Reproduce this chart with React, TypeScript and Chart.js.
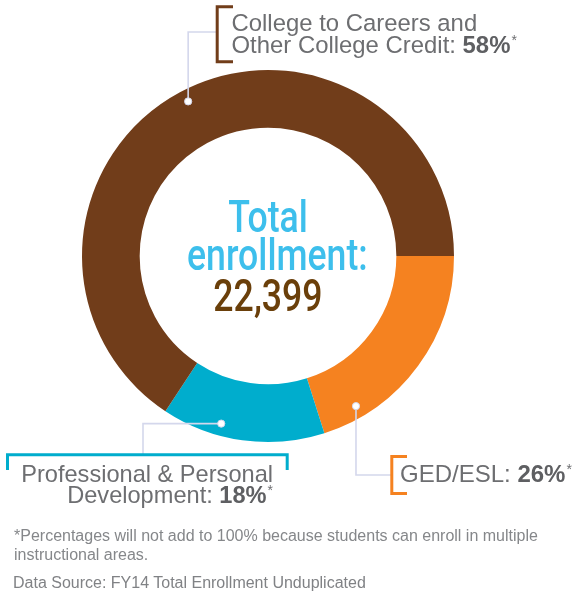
import React, { useEffect, useRef } from "react";
import { Chart, registerables } from "chart.js";

Chart.register(...registerables);

// ---- data ----
const categories = [
  "GED/ESL",
  "Professional & Personal Development",
  "College to Careers and Other College Credit",
];
const labelPercents = [26, 18, 58];
// share of the ring each slice occupies, as drawn in the picture (percent of circle)
const arcShares = [20.1, 14.2, 65.7];
const sliceColors = ["#F58220", "#00ADCD", "#713D1A"];
const totalTitle = ["Total", "enrollment:"];
const totalValue = "22,399";
const footnoteLines = [
  "*Percentages will not add to 100% because students can enroll in multiple",
  "instructional areas.",
];
const sourceLine = "Data Source: FY14 Total Enrollment Unduplicated";

const LEADER = "#D4D7EC";
const TEXT = "#6D6E71";
const BOLD = "#5E5F62";

const leaderPlugin = {
  id: "leaders",
  afterDatasetsDraw(chart: any) {
    const ctx = chart.ctx as CanvasRenderingContext2D;
    const arcs = chart.getDatasetMeta(0).data;
    const pt = (i: number, frac: number) => {
      const p = arcs[i].getProps(["x", "y", "startAngle", "endAngle", "outerRadius"], true);
      const ang = p.startAngle + frac * (p.endAngle - p.startAngle);
      const r = p.outerRadius - 12;
      return { x: p.x + r * Math.cos(ang), y: p.y + r * Math.sin(ang) };
    };
    const o = pt(0, 0.824);
    const t = pt(1, 0.65);
    const b = pt(2, 0.504);

    ctx.save();
    // leader lines
    ctx.strokeStyle = LEADER;
    ctx.lineWidth = 1.6;
    ctx.lineJoin = "miter";
    ctx.beginPath();
    ctx.moveTo(b.x, b.y);
    ctx.lineTo(b.x, 32);
    ctx.lineTo(217, 32);
    ctx.moveTo(t.x, t.y);
    ctx.lineTo(143, t.y);
    ctx.lineTo(143, 455);
    ctx.moveTo(o.x, o.y);
    ctx.lineTo(o.x, 475);
    ctx.lineTo(392, 475);
    ctx.stroke();

    // brackets
    ctx.lineWidth = 3;
    ctx.lineCap = "butt";
    ctx.strokeStyle = sliceColors[2];
    ctx.beginPath();
    ctx.moveTo(233, 6.7);
    ctx.lineTo(217.2, 6.7);
    ctx.lineTo(217.2, 61.7);
    ctx.lineTo(233, 61.7);
    ctx.stroke();

    ctx.strokeStyle = sliceColors[1];
    ctx.beginPath();
    ctx.moveTo(7.5, 470);
    ctx.lineTo(7.5, 454.8);
    ctx.lineTo(287.2, 454.8);
    ctx.lineTo(287.2, 470);
    ctx.stroke();

    ctx.strokeStyle = sliceColors[0];
    ctx.beginPath();
    ctx.moveTo(407, 456.5);
    ctx.lineTo(391.8, 456.5);
    ctx.lineTo(391.8, 493.5);
    ctx.lineTo(407, 493.5);
    ctx.stroke();

    // dots
    for (const d of [o, t, b]) {
      ctx.beginPath();
      ctx.arc(d.x, d.y, 3.6, 0, Math.PI * 2);
      ctx.fillStyle = "#FFFFFF";
      ctx.fill();
      ctx.lineWidth = 1;
      ctx.strokeStyle = LEADER;
      ctx.stroke();
    }
    ctx.restore();
  },
};

const labelFont = '"Liberation Sans", Arial, Helvetica, sans-serif';

function Line(props: {
  top: number;
  left?: number;
  width?: number;
  align?: "left" | "right" | "center";
  size: number;
  lh: number;
  color: string;
  family?: string;
  weight?: number;
  scaleX?: number;
  children: React.ReactNode;
}) {
  const { top, left = 0, width, align = "left", size, lh, color, family = labelFont, weight, scaleX, children } = props;
  return (
    <div
      style={{
        position: "absolute",
        top,
        left,
        width,
        textAlign: align,
        fontFamily: family,
        fontSize: size,
        fontWeight: weight,
        lineHeight: `${lh}px`,
        color,
        whiteSpace: "nowrap",
        transform: scaleX ? `scaleX(${scaleX})` : undefined,
        transformOrigin: "center",
      }}
    >
      {children}
    </div>
  );
}

const Star = () => (
  <span style={{ position: "relative", top: -8, fontSize: 14, marginLeft: 1 }}>*</span>
);
const Pct = (p: { v: number }) => (
  <span style={{ fontWeight: 700, color: BOLD }}>{p.v}%</span>
);

export default function App() {
  const canvasRef = useRef<HTMLCanvasElement | null>(null);

  useEffect(() => {
    if (!canvasRef.current) return;
    const chart = new Chart(canvasRef.current, {
      type: "doughnut",
      data: {
        labels: categories,
        datasets: [
          {
            data: arcShares,
            backgroundColor: sliceColors,
            borderWidth: 0,
            hoverOffset: 0,
          },
        ],
      },
      options: {
        responsive: false,
        animation: false,
        rotation: 90,
        cutout: "69%",
        layout: { padding: { left: 82, right: 122, top: 70, bottom: 152 } },
        plugins: { legend: { display: false }, tooltip: { enabled: false } },
        events: [],
      },
      plugins: [leaderPlugin],
    });
    return () => chart.destroy();
  }, []);

  const centerFont = 'Roboto, "Liberation Sans", sans-serif';

  return (
    <div
      style={{
        position: "absolute",
        left: 0,
        top: 0,
        width: 576,
        height: 594,
        overflow: "hidden",
        background: "#FFFFFF",
      }}
    >
      <canvas
        ref={canvasRef}
        width={576}
        height={594}
        style={{ position: "absolute", left: 0, top: 0, display: "block" }}
      />

      {/* center text */}
      <Line top={195} left={168} width={200} align="center" size={44} lh={44} weight={500} color="#3DBFEC" family={centerFont} scaleX={0.81}>
        {totalTitle[0]}
      </Line>
      <Line top={233} left={168} width={200} align="center" size={44} lh={44} weight={500} color="#3DBFEC" family={centerFont} scaleX={0.81}>
        {totalTitle[1]}
      </Line>
      <Line top={274} left={168} width={200} align="center" size={44} lh={44} weight={500} color="#6A3F0A" family={centerFont} scaleX={0.81}>
        {totalValue}
      </Line>

      {/* top label */}
      <Line top={10.6} left={231.5} size={23.9} lh={24} color={TEXT}>
        College to Careers and
      </Line>
      <Line top={33.2} left={231.5} size={23.9} lh={24} color={TEXT}>
        Other College Credit: <Pct v={labelPercents[2]} />
        <Star />
      </Line>

      {/* teal label */}
      <Line top={461.6} left={0} width={273} align="right" size={23.6} lh={24} color={TEXT}>
        Professional &amp; Personal
      </Line>
      <Line top={483.2} left={0} width={273} align="right" size={23.6} lh={24} color={TEXT}>
        Development: <Pct v={labelPercents[1]} />
        <Star />
      </Line>

      {/* orange label */}
      <Line top={462.2} left={400} size={24} lh={24} color={TEXT}>
        GED/ESL: <Pct v={labelPercents[0]} />
        <Star />
      </Line>

      {/* footnotes */}
      <Line top={525.5} left={14} size={16} lh={20} color="#85878A">
        {footnoteLines[0]}
      </Line>
      <Line top={545} left={14} size={16} lh={20} color="#85878A">
        {footnoteLines[1]}
      </Line>
      <Line top={572.5} left={13} size={16} lh={20} color="#808285">
        {sourceLine}
      </Line>
    </div>
  );
}
